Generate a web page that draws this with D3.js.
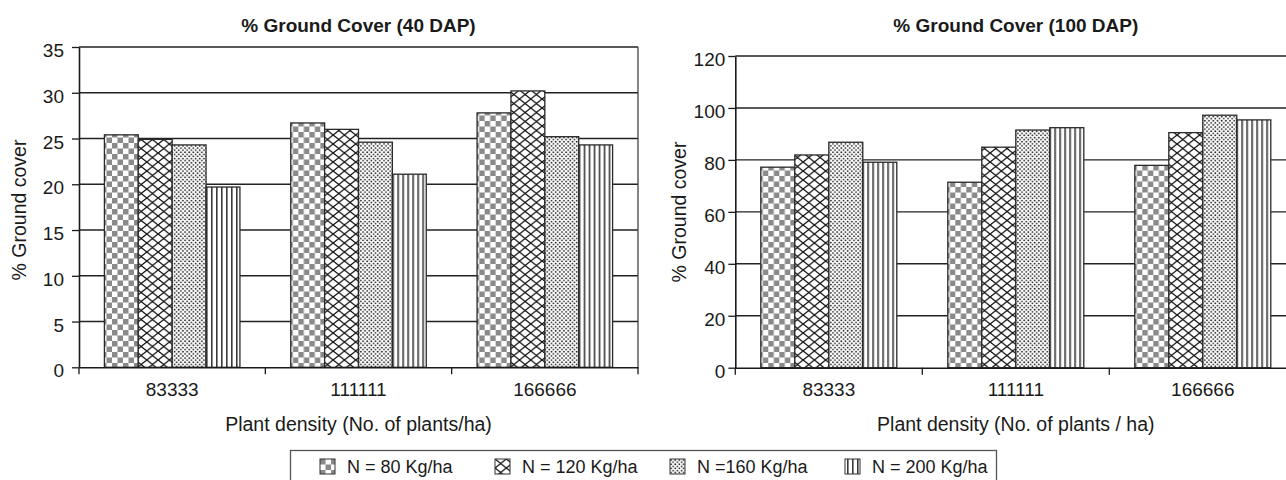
<!DOCTYPE html>
<html>
<head>
<meta charset="utf-8">
<script src="https://cdn.jsdelivr.net/npm/d3@7.9.0/dist/d3.min.js"></script>
<style>
  body { margin: 0; background: #fff; }
  svg { display: block; font-family: "Liberation Sans", Arial, sans-serif; }
  .tick text { fill: #1a1a1a; font-size: 19px; }
  .tick line, .domain { stroke: #1a1a1a; }
</style>
</head>
<body>
<svg id="chart" width="1286" height="480"></svg>
<script>
// Data
const densities = ["83333", "111111", "166666"];
const nitrogen = ["N = 80 Kg/ha", "N = 120 Kg/ha", "N =160 Kg/ha", "N = 200 Kg/ha"];
const cover40 = [
  [25.4, 24.9, 24.3, 19.7],
  [26.7, 26.0, 24.6, 21.1],
  [27.8, 30.2, 25.2, 24.3],
];
const cover100 = [
  [77.2, 81.9, 86.8, 79.1],
  [71.4, 84.9, 91.5, 92.4],
  [77.9, 90.5, 97.2, 95.4],
];
const ticks40 = [0, 5, 10, 15, 20, 25, 30, 35];
const ticks100 = [0, 20, 40, 60, 80, 100, 120];

const svg = d3.select("#chart");
const defs = svg.append("defs");

// fill patterns, one per nitrogen level
function makePattern(id, w, h, draw) {
  const p = defs.append("pattern")
    .attr("id", id)
    .attr("patternUnits", "userSpaceOnUse")
    .attr("width", w)
    .attr("height", h);
  p.append("rect").attr("width", w).attr("height", h).attr("fill", "#fff");
  draw(p, w, h);
}

makePattern("checker", 11, 11, (p) => {
  p.append("rect").attr("width", 5.5).attr("height", 5.5).attr("fill", "#8a8a8a");
  p.append("rect").attr("x", 5.5).attr("y", 5.5).attr("width", 5.5).attr("height", 5.5).attr("fill", "#8a8a8a");
});
makePattern("lattice", 11.3, 9, (p, w, h) => {
  p.append("path")
    .attr("d", `M0,0L${w},${h}M${w},0L0,${h}`)
    .attr("stroke", "#111")
    .attr("stroke-width", 1.3);
});
makePattern("dots", 4.2, 4.2, (p) => {
  p.append("circle").attr("cx", 1.05).attr("cy", 1.05).attr("r", 0.9).attr("fill", "#1a1a1a");
  p.append("circle").attr("cx", 3.15).attr("cy", 3.15).attr("r", 0.9).attr("fill", "#1a1a1a");
});
makePattern("vlines", 5, 5, (p) => {
  p.append("rect").attr("x", 2).attr("width", 1.6).attr("height", 5).attr("fill", "#3a3a3a");
});

const fills = ["url(#checker)", "url(#lattice)", "url(#dots)", "url(#vlines)"];

function renderPanel(cfg) {
  const { values, tickValues, domainMax, left, right, top, bottom } = cfg;
  const g = svg.append("g");

  const x0 = d3.scaleBand().domain(densities).range([left, right]);
  const x1 = d3.scaleBand().domain(nitrogen).range([0, x0.bandwidth()]).paddingOuter(0.75);
  const y = d3.scaleLinear().domain([0, domainMax]).range([bottom, top]);

  // gridlines
  g.append("g")
    .selectAll("line")
    .data(tickValues.filter((d) => d > 0))
    .join("line")
    .attr("x1", left)
    .attr("x2", right)
    .attr("y1", (d) => y(d))
    .attr("y2", (d) => y(d))
    .attr("stroke", "#222")
    .attr("stroke-width", 1.4);

  if (cfg.rightBorder) {
    g.append("line")
      .attr("x1", right).attr("x2", right)
      .attr("y1", top).attr("y2", bottom)
      .attr("stroke", "#444").attr("stroke-width", 1.3);
  }

  // bars
  g.append("g")
    .selectAll("g")
    .data(values.map((row, i) => ({ cat: densities[i], row })))
    .join("g")
    .attr("transform", (d) => `translate(${x0(d.cat)},0)`)
    .selectAll("rect")
    .data((d) => d.row.map((v, j) => ({ key: nitrogen[j], v, j })))
    .join("rect")
    .attr("x", (d) => x1(d.key))
    .attr("width", x1.bandwidth())
    .attr("y", (d) => y(d.v))
    .attr("height", (d) => y(0) - y(d.v))
    .attr("fill", (d) => fills[d.j])
    .attr("stroke", "#2a2a2a")
    .attr("stroke-width", 1.3);

  // y axis
  const yAxis = g.append("g")
    .attr("transform", `translate(${left},0)`)
    .call(d3.axisLeft(y).tickValues(tickValues).tickSize(7).tickSizeOuter(0).tickPadding(cfg.yPad));
  yAxis.select(".domain").attr("stroke-width", 1.6);
  yAxis.selectAll(".tick line").attr("stroke-width", 1.3);
  yAxis.selectAll(".tick text").attr("dy", "0.5em");

  // x axis: labels centered, ticks at category boundaries
  const xAxis = g.append("g")
    .attr("transform", `translate(0,${bottom})`)
    .call(d3.axisBottom(x0).tickSize(0).tickPadding(15));
  xAxis.select(".domain").attr("stroke-width", 1.6);
  xAxis.append("g")
    .selectAll("line")
    .data(densities.map((d) => x0(d)).concat([right]))
    .join("line")
    .attr("x1", (d) => d).attr("x2", (d) => d)
    .attr("y1", 0).attr("y2", 7)
    .attr("stroke", "#1a1a1a").attr("stroke-width", 1.3);

  // titles
  svg.append("text")
    .attr("x", (left + right) / 2).attr("y", 32)
    .attr("text-anchor", "middle")
    .attr("font-size", 19).attr("font-weight", "bold").attr("fill", "#1a1a1a")
    .text(cfg.title);
  svg.append("text")
    .attr("x", (left + right) / 2).attr("y", 431)
    .attr("text-anchor", "middle")
    .attr("font-size", 19.5).attr("fill", "#1a1a1a")
    .text(cfg.xTitle);
  svg.append("text")
    .attr("transform", `translate(${cfg.yTitleX},${cfg.yTitleY}) rotate(-90)`)
    .attr("text-anchor", "middle")
    .attr("font-size", 19.5).attr("fill", "#1a1a1a")
    .text("% Ground cover");
}

renderPanel({
  values: cover40, tickValues: ticks40, domainMax: 35,
  left: 79, right: 638, top: 47, bottom: 367.3,
  yPad: 8, rightBorder: true,
  title: "% Ground Cover (40 DAP)",
  xTitle: "Plant density (No. of plants/ha)",
  yTitleX: 26, yTitleY: 210,
});

renderPanel({
  values: cover100, tickValues: ticks100, domainMax: 120,
  left: 735.3, right: 1296.3, top: 56, bottom: 367.7,
  yPad: 3, rightBorder: false,
  title: "% Ground Cover (100 DAP)",
  xTitle: "Plant density (No. of plants / ha)",
  yTitleX: 686, yTitleY: 212,
});

// legend
const legend = svg.append("g");
legend.append("rect")
  .attr("x", 290.5).attr("y", 450.5)
  .attr("width", 706).attr("height", 34)
  .attr("fill", "#fff").attr("stroke", "#555").attr("stroke-width", 1.3);
const legendX = d3.scalePoint().domain(nitrogen).range([320, 845]);
const item = legend.selectAll("g.item")
  .data(nitrogen)
  .join("g")
  .attr("class", "item")
  .attr("transform", (d) => `translate(${legendX(d)},459)`);
item.append("rect")
  .attr("width", 15).attr("height", 15)
  .attr("fill", (d, i) => fills[i])
  .attr("stroke", "#333").attr("stroke-width", 1);
item.append("text")
  .attr("x", 27).attr("y", 14)
  .attr("font-size", 18).attr("fill", "#1a1a1a")
  .text((d) => d);
</script>
</body>
</html>
